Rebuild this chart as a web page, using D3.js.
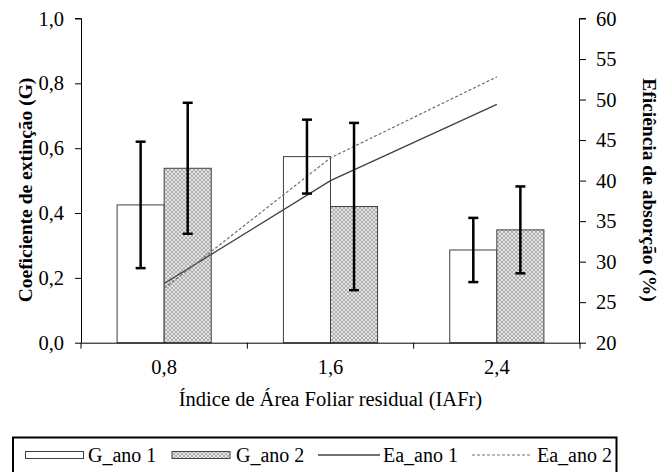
<!DOCTYPE html>
<html>
<head>
<meta charset="utf-8">
<script src="https://cdn.jsdelivr.net/npm/d3@7"></script>
<style>
    body { margin: 0; background: #fff; }
    svg text { font-family: 'Liberation Serif' !important; }
</style>
</head>
<body>
<script>
let categories = ["0,8", "1,6", "2,4"];
let series = ["G_ano 1", "G_ano 2"];
let g_ano1 = [0.425, 0.574, 0.286];
let g_ano2 = [0.538, 0.420, 0.348];
let err_ano1 = [0.195, 0.114, 0.099];
let err_ano2 = [0.202, 0.258, 0.134];
let ea_ano1 = [27.3, 40.0, 49.4];
let ea_ano2 = [26.7, 42.8, 52.8];
let leftTicks = [0, 0.2, 0.4, 0.6, 0.8, 1.0];
let rightTicks = [20, 25, 30, 35, 40, 45, 50, 55, 60];

let width = 667,
    height = 472;

let plotLeft = 81, plotRight = 580, plotTop = 18.5, plotBottom = 342.7;
let serifFont = "Liberation Serif";

let svg = d3.select("body")
    .append("svg")
    .attr("width", width)
    .attr("height", height)
    .attr("font-family", serifFont);

/* ------- PATTERN -------*/
let defs = svg.append("defs");
let pat = defs.append("pattern")
    .attr("id", "hatch")
    .attr("patternUnits", "userSpaceOnUse")
    .attr("width", 4)
    .attr("height", 4);
pat.append("rect").attr("width", 4).attr("height", 4).attr("fill", "#e4e4e4");
pat.append("path")
    .attr("d", "M0,0 L4,4 M4,0 L0,4")
    .attr("stroke", "#a8a8a8")
    .attr("stroke-width", 0.9);

/* ------- SCALES -------*/
let x0 = d3.scaleBand()
    .domain(categories)
    .range([plotLeft, plotRight])
    .padding(0);

let bw = x0.bandwidth();
let x1 = d3.scaleBand()
    .domain(series)
    .range([bw * 0.217, bw * 0.783])
    .padding(0);

let y = d3.scaleLinear()
    .domain([0, 1])
    .range([plotBottom, plotTop]);

let y2 = d3.scaleLinear()
    .domain([20, 60])
    .range([plotBottom, plotTop]);

/* ------- BARS -------*/
let barData = [];
categories.forEach(function(c, i) {
    barData.push({cat: c, s: series[0], v: g_ano1[i], e: err_ano1[i]});
    barData.push({cat: c, s: series[1], v: g_ano2[i], e: err_ano2[i]});
});

svg.append("g").selectAll("rect")
    .data(barData)
    .enter()
    .append("rect")
    .attr("x", function(d) { return x0(d.cat) + x1(d.s); })
    .attr("y", function(d) { return y(d.v); })
    .attr("width", x1.bandwidth())
    .attr("height", function(d) { return y(0) - y(d.v); })
    .attr("fill", function(d) { return d.s === series[0] ? "#fff" : "url(#hatch)"; })
    .attr("stroke", "#404040")
    .attr("stroke-width", 1);

/* ------- LINES -------*/
let line = d3.line()
    .x(function(d, i) { return x0(categories[i]) + bw / 2; })
    .y(function(d) { return y2(d); });

svg.append("path")
    .attr("d", line(ea_ano1))
    .attr("fill", "none")
    .attr("stroke", "#404040")
    .attr("stroke-width", 1.3);

svg.append("path")
    .attr("d", line(ea_ano2))
    .attr("fill", "none")
    .attr("stroke", "#707070")
    .attr("stroke-width", 1.2)
    .attr("stroke-dasharray", "3,2");

/* ------- ERROR BARS -------*/
let err = svg.append("g").selectAll("g")
    .data(barData)
    .enter()
    .append("g")
    .attr("stroke", "#000")
    .attr("stroke-width", 2.5);

function cx(d) { return x0(d.cat) + x1(d.s) + x1.bandwidth() / 2; }

err.append("line")
    .attr("x1", cx).attr("x2", cx)
    .attr("y1", function(d) { return y(d.v + d.e); })
    .attr("y2", function(d) { return y(d.v - d.e); });
err.append("line")
    .attr("x1", function(d) { return cx(d) - 5; })
    .attr("x2", function(d) { return cx(d) + 5; })
    .attr("y1", function(d) { return y(d.v + d.e); })
    .attr("y2", function(d) { return y(d.v + d.e); });
err.append("line")
    .attr("x1", function(d) { return cx(d) - 5; })
    .attr("x2", function(d) { return cx(d) + 5; })
    .attr("y1", function(d) { return y(d.v - d.e); })
    .attr("y2", function(d) { return y(d.v - d.e); });

/* ------- AXES -------*/
let yAxis = d3.axisLeft(y)
    .tickValues(leftTicks)
    .tickSize(6)
    .tickPadding(11)
    .tickFormat(function(d) { return d3.format(".1f")(d).replace(".", ","); });

let gy = svg.append("g")
    .attr("transform", "translate(" + plotLeft + ",0)")
    .call(yAxis);

let y2Axis = d3.axisRight(y2)
    .tickValues(rightTicks)
    .tickSize(6)
    .tickPadding(10);

let gy2 = svg.append("g")
    .attr("transform", "translate(" + plotRight + ",0)")
    .call(y2Axis);

let xAxis = d3.axisBottom(x0)
    .tickSize(0)
    .tickPadding(17);

let gx = svg.append("g")
    .attr("transform", "translate(0," + plotBottom + ")")
    .call(xAxis);

// ticks at the band edges
gx.selectAll(".edge")
    .data(categories.concat(["end"]))
    .enter()
    .append("line")
    .attr("x1", function(d, i) { return plotLeft + i * bw; })
    .attr("x2", function(d, i) { return plotLeft + i * bw; })
    .attr("y1", 0)
    .attr("y2", 6)
    .attr("stroke", "#000");

[gy, gy2, gx].forEach(function(g) {
    g.attr("font-family", serifFont)
        .attr("font-size", 20.5);
    g.selectAll("text").attr("fill", "#000");
    g.selectAll("path, line").attr("stroke", "#000");
    g.select(".domain").attr("stroke-width", 1);
});
gx.select(".domain").attr("d", "M" + plotLeft + ",0.5H" + plotRight);
gy.select(".domain").attr("d", "M0.5," + plotBottom + "V" + plotTop + "H-6");
gy2.select(".domain").attr("d", "M-0.5," + plotBottom + "V" + plotTop + "H6");

/* ------- TITLES -------*/
svg.append("text")
    .attr("x", (plotLeft + plotRight) / 2)
    .attr("y", 406)
    .attr("text-anchor", "middle")
    .attr("font-size", 20.5)
    .text("Índice de Área Foliar residual (IAFr)");

svg.append("text")
    .attr("transform", "translate(32,190) rotate(-90)")
    .attr("text-anchor", "middle")
    .attr("font-size", 19.5)
    .attr("font-weight", "bold")
    .text("Coeficiente de extinção (G)");

svg.append("text")
    .attr("transform", "translate(643,190) rotate(90)")
    .attr("text-anchor", "middle")
    .attr("font-size", 19.5)
    .attr("font-weight", "bold")
    .text("Eficiência de absorção (%)");

/* ------- LEGEND -------*/
let legend = svg.append("g");
legend.append("rect")
    .attr("x", 13)
    .attr("y", 437.5)
    .attr("width", 603.5)
    .attr("height", 40)
    .attr("fill", "none")
    .attr("stroke", "#000")
    .attr("stroke-width", 2);

let ly = 455;
legend.append("rect")
    .attr("x", 25.5).attr("y", ly - 3.5)
    .attr("width", 58).attr("height", 7)
    .attr("fill", "#fff").attr("stroke", "#404040");
legend.append("rect")
    .attr("x", 172).attr("y", ly - 3.5)
    .attr("width", 58).attr("height", 7)
    .attr("fill", "url(#hatch)").attr("stroke", "#404040");
legend.append("line")
    .attr("x1", 318).attr("x2", 380)
    .attr("y1", ly).attr("y2", ly)
    .attr("stroke", "#404040").attr("stroke-width", 1.3);
legend.append("line")
    .attr("x1", 472).attr("x2", 531)
    .attr("y1", ly).attr("y2", ly)
    .attr("stroke", "#707070").attr("stroke-width", 1.2)
    .attr("stroke-dasharray", "3,2");

let labels = [["G_ano 1", 88], ["G_ano 2", 236], ["Ea_ano 1", 383], ["Ea_ano 2", 537]];
legend.selectAll(".lt")
    .data(labels)
    .enter()
    .append("text")
    .attr("class", "lt")
    .attr("x", function(d) { return d[1]; })
    .attr("y", ly + 6.5)
    .attr("font-size", 20)
    .text(function(d) { return d[0]; });
</script>
</body>
</html>
